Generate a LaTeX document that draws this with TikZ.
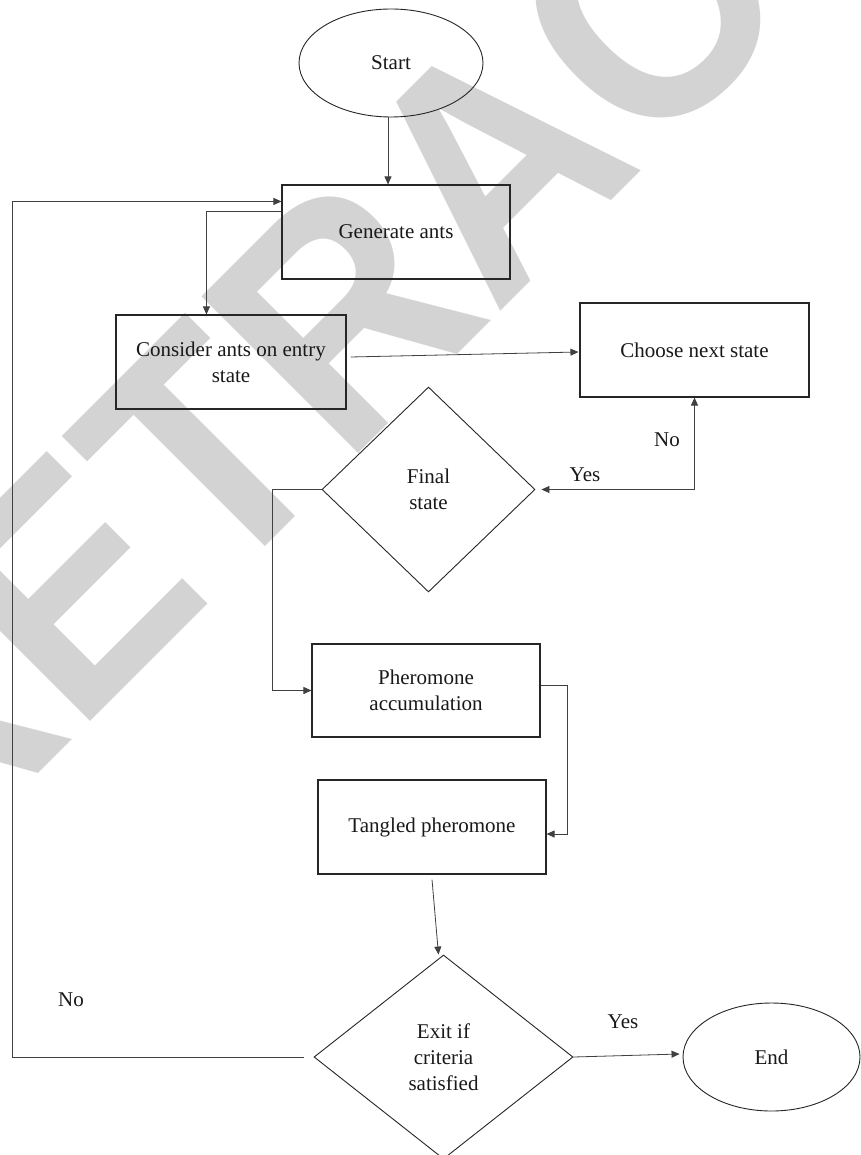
\documentclass[tikz,border=0pt]{standalone}
\usepackage{fontspec}
\setmainfont{Liberation Serif}
\newfontfamily\wmfont[FakeStretch=0.92]{Liberation Sans}
\usetikzlibrary{shapes.geometric,arrows.meta,calc}
\definecolor{wmgray}{RGB}{211,211,211}
\newcommand\flowfont{\fontsize{21}{26}\selectfont}
\begin{document}
\begin{tikzpicture}[x=1pt,y=-1pt,
  arr/.style={draw=black!75, line width=0.8pt, -{Triangle[length=8pt,width=7pt]}},
  box/.style={draw=black!85, line width=1.1pt, minimum width=228pt, minimum height=94pt, inner sep=0pt, align=center, font=\flowfont, text=black!90},
  term/.style={draw=black!85, line width=0.9pt, ellipse, inner sep=0pt, font=\flowfont, text=black!90},
  dec/.style={draw=black!85, line width=0.9pt, diamond, inner sep=0pt, align=center, font=\flowfont, text=black!90},
  lbl/.style={inner sep=0pt, font=\flowfont, text=black!90},
  wm/.style={inner sep=0pt, text=wmgray, font={\wmfont\bfseries\fontsize{322}{322}\selectfont}}
]
\useasboundingbox (0,0) rectangle (860,1155);
\fill[white] (0,0) rectangle (860,1155);
\begin{scope}
\clip (0,0) rectangle (860,1155);
\node[wm, anchor=base west, rotate=45] (wmark) at (-74.5,886.5) {RETRACTED};
\end{scope}

\node[term, minimum width=184pt, minimum height=108pt] (start) at (391,63) {Start};
\node[box] (gen) at (396,232) {Generate ants};
\node[box, minimum width=230pt] (consider) at (231,362) {Consider ants on entry\\state};
\node[box, minimum width=229pt] (choose) at (694.5,350) {Choose next state};
\node[dec, minimum width=213pt, minimum height=205pt] (final) at (428.5,489.5) {Final\\state};
\node[box, minimum height=93pt] (pher) at (426,690.5) {Pheromone\\accumulation};
\node[box] (tangled) at (432,827) {Tangled pheromone};
\node[dec, minimum width=259pt, minimum height=204pt] (exit) at (443.5,1057) {Exit if\\criteria\\satisfied};
\node[term, minimum width=177pt, minimum height=108pt] (end) at (771.5,1057) {End};

\node[lbl] (no1) at (667,440) {No};
\node[lbl] (yes1) at (585,475) {Yes};
\node[lbl] (no2) at (71,1000) {No};
\node[lbl] (yes2) at (623,1022) {Yes};

\coordinate (lp) at (12,0);
\coordinate (gin) at ($(gen.north west)+(0,17)$);
\coordinate (yn) at (choose.south |- final.east);

\draw[arr] ($(start.south)+(-3,0)$) -- ($(gen.north)+(-8,0)$);
\draw[arr, shorten <=10pt] (exit.west) -- (exit.west -| lp) -- (lp |- gin) -- (gin);
\draw[arr] ($(gen.north west)+(0,27)$) -| ($(consider.north west)+(91,0)$);
\draw[arr] ($(consider.east)+(4,-5)$) -- ($(choose.west)+(-1,2)$);
\draw[arr] (yn) -- (choose.south);
\draw[arr, shorten >=6pt] (yn) -- (final.east);
\draw[arr] (final.west) -- ++(-49,0) |- (pher.west);
\draw[arr] ($(pher.east)+(0,-5)$) -- ++(27,0) |- ($(tangled.east)+(0,7)$);
\draw[arr] ($(tangled.south)+(0,5)$) -- ($(exit.north)+(-5,0)$);
\draw[arr] (exit.east) -- ($(end.west)+(-3,-3)$);
\end{tikzpicture}
\end{document}
